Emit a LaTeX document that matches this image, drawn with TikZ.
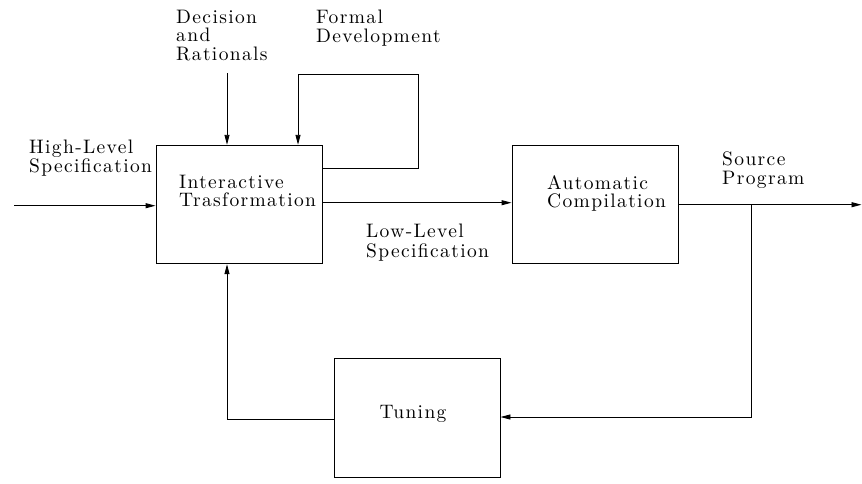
\documentclass[tikz,border=0pt]{standalone}
\usepackage{fontspec}
\newfontfamily\lmten{lmroman10-regular.otf}[LetterSpace=7]
\usetikzlibrary{arrows.meta}
\begin{document}
\begin{tikzpicture}[x=1pt,y=-1pt,
  arr/.style={line width=0.9pt,-{Triangle[length=10pt,width=5pt]}},
  blk/.style={draw,line width=0.9pt,minimum width=166pt,minimum height=118.5pt,inner sep=0pt},
  lbl/.style={anchor=north west,inner sep=0pt,align=left,
    font=\lmten\fontsize{19.5}{18.3}\selectfont},
]
\useasboundingbox (0,0) rectangle (862,483);
% blocks
\node[blk] (it) at (239,204.5) {};
\node[blk] (ac) at (595,204.5) {};
\node[blk] (tu) at (417,417.8) {};
% labels
\node[lbl] (dec) at (176,10) {Decision\\and\\Rationals};
\node[lbl] (fd) at (316,10) {Formal\\Development};
\node[lbl,font=\lmten\fontsize{19.5}{12.7}\selectfont] (hl) at (29,140) {High-Level\\Specification};
\node[lbl] (itt) at (179,175) {Interactive\\Trasformation};
\node[lbl,font=\lmten\fontsize{19.5}{20}\selectfont] (ll) at (366,223.5) {Low-Level\\Specification};
\node[lbl] (act) at (547,175) {Automatic\\Compilation};
\node[lbl,font=\lmten\fontsize{19.5}{19.5}\selectfont] (sp) at (722,151.5) {Source\\Program};
\node[lbl,anchor=base] (tut) at (413,418) {Tuning};
% coordinates
\coordinate (in) at (14,205.7);
\coordinate (dtop) at (227,73);
\coordinate (fy) at (0,168);
\coordinate (f1) at (418,74);
\coordinate (f2) at (298,74);
\coordinate (ity) at (0,202.7);
\coordinate (oy) at (0,204.7);
\coordinate (out) at (861.5,204.7);
\coordinate (br) at (751,204.7);
\coordinate (b1) at (751,417);
\coordinate (ty) at (0,419.3);
\coordinate (t1) at (227,419.3);
% connectors
\draw[arr] (in) -- (in -| it.west);
\draw[arr] (dtop) -- (dtop |- it.north);
\draw[arr] (it.east |- fy) -| (f1) -- (f2) -- (f2 |- it.north);
\draw[arr] (it.east |- ity) -- (ac.west |- ity);
\draw[arr] (ac.east |- oy) -- (out);
\draw[arr] (br) -- (b1) -- (b1 -| tu.east);
\draw[arr] (tu.west |- ty) -- (t1) -- (t1 |- it.south);
\end{tikzpicture}
\end{document}
